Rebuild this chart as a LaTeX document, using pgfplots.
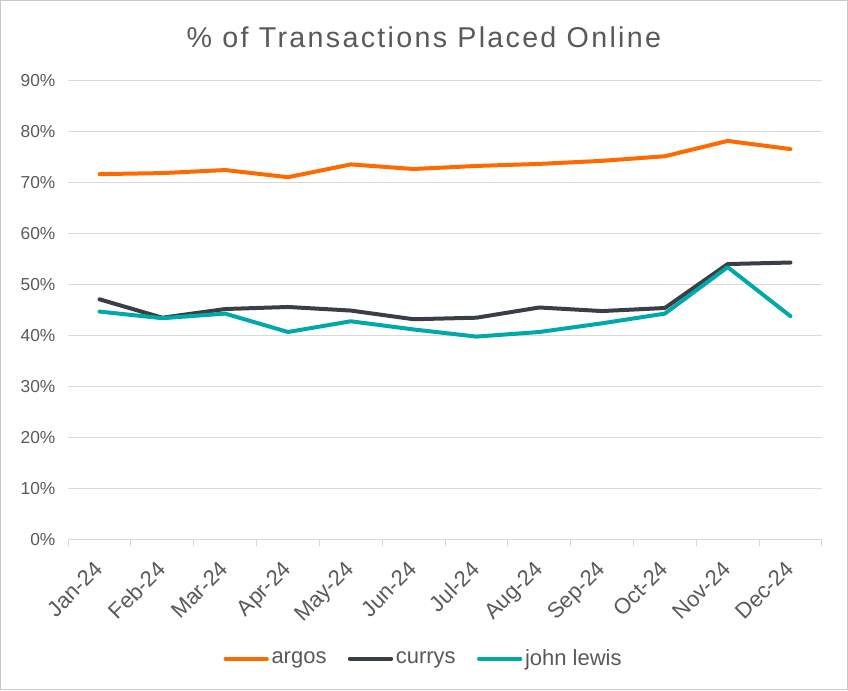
\documentclass[border=0pt]{standalone}
\usepackage{pgfplots}
\pgfplotsset{compat=1.18}
\usepackage{fontspec}
\setmainfont{Liberation Sans}
\definecolor{argos}{HTML}{FF6A00}
\definecolor{currys}{HTML}{3A3F45}
\definecolor{jl}{HTML}{00A9A9}
\definecolor{txt}{HTML}{595959}
\definecolor{grid}{HTML}{D9D9D9}
\definecolor{frame}{HTML}{C8C8C8}
\begin{document}
\begin{tikzpicture}
\begin{axis}[
  scale only axis,
  width=565.5pt, height=345pt,
  xmin=0.5, xmax=12.5,
  ymin=0, ymax=90,
  xtick={1,...,12},
  xticklabels={Jan-24,Feb-24,Mar-24,Apr-24,May-24,Jun-24,Jul-24,Aug-24,Sep-24,Oct-24,Nov-24,Dec-24},
  major x tick style={draw=none},
  minor xtick={0.5,1.5,...,12.5},
  minor x tick style={draw=grid, line width=0.75pt},
  minor tick length=4.5pt,
  xtick align=outside,
  ytick={0,10,...,90},
  yticklabel={\pgfmathprintnumber{\tick}\%},
  ytick style={draw=none},
  ymajorgrids,
  major grid style={draw=grid, line width=0.75pt},
  axis x line*=bottom,
  axis y line*=left,
  x axis line style={draw=grid, line width=0.75pt, -},
  y axis line style={draw=none},
  /pgf/number format/assume math mode=true,
  tick label style={text=txt},
  yticklabel style={font=\fontsize{13}{15}\selectfont, xshift=-6pt},
  xticklabel style={font=\fontsize{16.5}{18}\selectfont, rotate=45, anchor=north east, xshift=-7.3pt, yshift=-0.5pt},
  title={\addfontfeature{LetterSpace=8}\% of Transactions Placed Online},
  title style={font=\fontsize{21.5}{24}\selectfont, text=txt, at={(axis description cs:0.472,1.076)}, anchor=center},
  legend style={at={(axis description cs:0.472,-0.258)}, anchor=center, draw=none,
    font=\fontsize{16.5}{18}\selectfont, text=txt, /tikz/every even column/.append style={column sep=14pt}},
  legend columns=3,
  legend image code/.code={\draw[#1, line width=3pt, line cap=round] (0pt,0pt) -- (31pt,0pt);},
  every axis plot/.append style={line width=3pt, line join=round, line cap=round},
  clip=false,
]
\addplot[argos] coordinates {(1,71.6)(2,71.8)(3,72.4)(4,71.0)(5,73.5)(6,72.6)(7,73.2)(8,73.6)(9,74.2)(10,75.1)(11,78.1)(12,76.5)};
\addlegendentry{argos}
\addplot[currys] coordinates {(1,47.1)(2,43.5)(3,45.2)(4,45.6)(5,44.9)(6,43.2)(7,43.5)(8,45.5)(9,44.8)(10,45.4)(11,54.0)(12,54.3)};
\addlegendentry{currys}
\addplot[jl] coordinates {(1,44.7)(2,43.4)(3,44.3)(4,40.7)(5,42.8)(6,41.2)(7,39.8)(8,40.7)(9,42.4)(10,44.3)(11,53.4)(12,43.8)};
\addlegendentry{john lewis}
\end{axis}
\draw[frame, line width=1pt] (-50.6pt,-112.1pt) rectangle (584.6pt,404.6pt);
\end{tikzpicture}
\end{document}
